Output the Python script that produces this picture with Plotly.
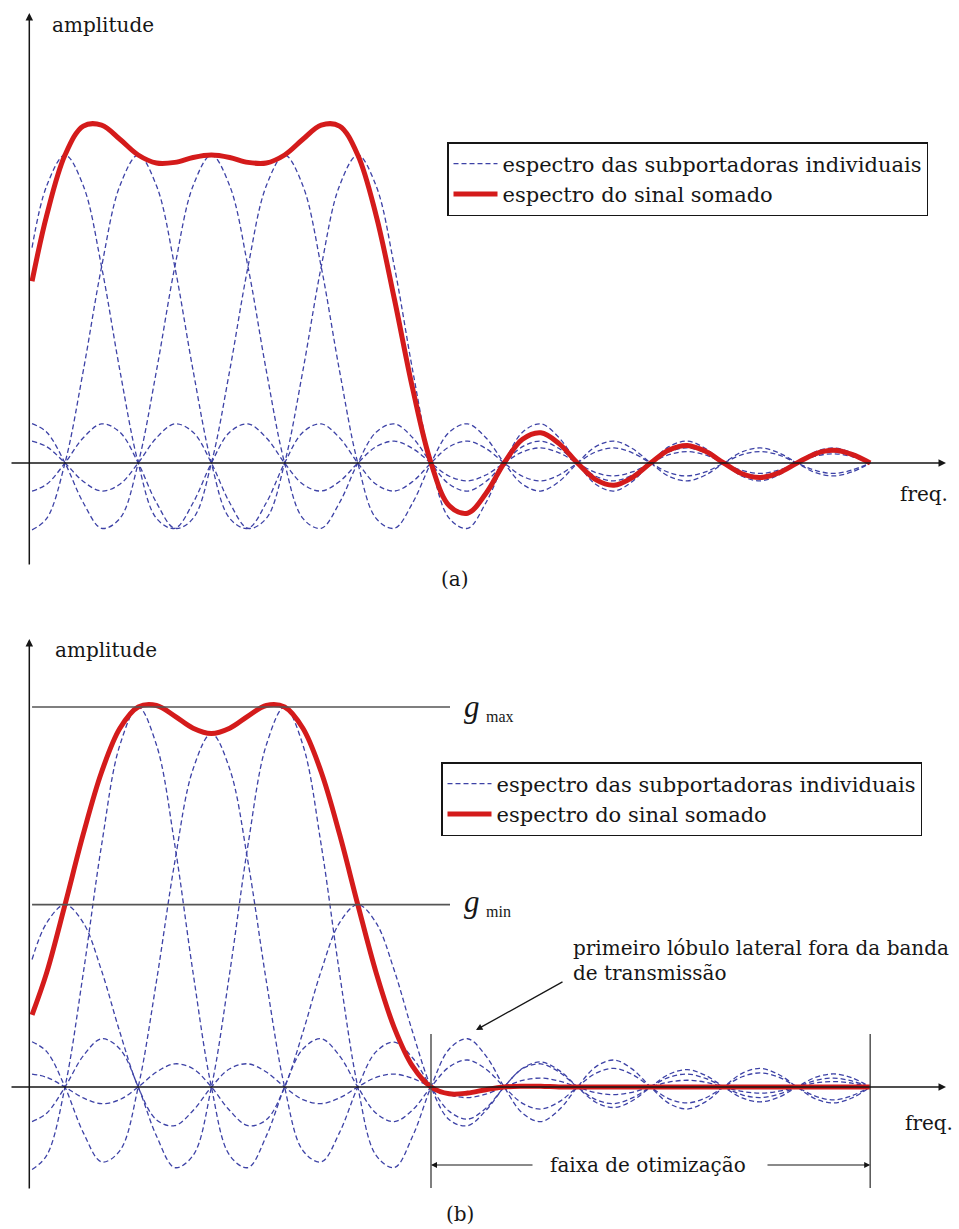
import plotly.graph_objects as go

# ---------------- data ----------------
# sub-carrier centre frequencies, in units of the carrier spacing
CARRIER_FREQ = [0, 1, 2, 3, 4]
# sub-carrier peak amplitudes: (a) plain sum, (b) weighted (optimised) sum
AMP_A = [1.0, 1.0, 1.0, 1.0, 1.0]
AMP_B = [0.48, 1.0, 0.93, 1.0, 0.48]

# single sub-carrier spectrum shape, read at offsets from its centre
PROFILE_OFFSET = [0, 0.25, 0.45, 0.5, 0.75, 1, 1.25, 1.45, 1.5, 1.75, 2, 2.25, 2.45, 2.5, 2.75,
                  3, 3.25, 3.45, 3.5, 3.75, 4, 4.25, 4.45, 4.5, 4.75, 5, 5.25, 5.5, 5.75,
                  6, 6.25, 6.5, 6.75, 7, 7.25, 7.5, 7.75, 8, 8.25, 8.5, 8.75,
                  9, 9.25, 9.5, 9.75, 10, 10.25, 10.5, 10.75, 11]
PROFILE_VALUE = [1.000, 0.900, 0.699, 0.637, 0.300, 0.0, -0.180, -0.217, -0.212, -0.129, 0.0, 0.100, 0.128, 0.127, 0.082,
                 0.0, -0.069, -0.091, -0.091, -0.060, 0.0, 0.053, 0.071, 0.071, 0.047, 0.0, -0.043, -0.058, -0.039,
                 0.0, 0.036, 0.049, 0.033, 0.0, -0.031, -0.042, -0.029, 0.0, 0.027, 0.037, 0.026,
                 0.0, -0.024, -0.034, -0.023, 0.0, 0.022, 0.030, 0.021, 0.0]

# summed spectrum (red), read on this frequency grid
RED_FREQ = [-0.45, -0.25, 0, 0.25, 0.5, 0.75, 1, 1.25, 1.5, 1.75, 2, 2.25, 2.5, 2.75,
            3, 3.25, 3.5, 3.75, 4, 4.25, 4.5, 4.75, 5, 5.25, 5.5, 5.75, 6, 6.25, 6.5, 6.75,
            7, 7.25, 7.5, 7.75, 8, 8.25, 8.5, 8.75, 9, 9.25, 9.5, 9.75, 10, 10.25, 10.5, 10.75, 11]
RED_A = [0.590, 0.804, 1.000, 1.094, 1.097, 1.051, 1.000, 0.974, 0.976, 0.992, 1.000, 0.992, 0.976, 0.974,
         1.000, 1.051, 1.097, 1.094, 1.000, 0.804, 0.532, 0.241, 0.0, -0.139, -0.163, -0.099, 0.0, 0.077, 0.098, 0.063,
         0.0, -0.054, -0.072, -0.047, 0.0, 0.042, 0.057, 0.038, 0.0, -0.035, -0.047, -0.032, 0.0, 0.030, 0.041, 0.028, 0.0]
RED_B = [0.190, 0.301, 0.480, 0.666, 0.829, 0.944, 1.000, 1.004, 0.976, 0.944, 0.930, 0.944, 0.976, 1.004,
         1.000, 0.944, 0.829, 0.666, 0.480, 0.301, 0.155, 0.054, 0.0, -0.018, -0.016, -0.007, 0.0, 0.002, 0.002, 0.0,
         0.0, 0.0, 0.0, 0.0, 0.0, 0.0, 0.0, 0.0, 0.0, 0.0, 0.0, 0.0, 0.0, 0.0, 0.0, 0.0, 0.0]

G_MAX = 1.0
G_MIN = 0.48
F_START = -0.45
F_END = 11
BAND_START = 5
BAND_END = 11

NAME_SUB = "espectro das subportadoras individuais"
NAME_SUM = "espectro do sinal somado"

# ---------------- styling / layout ----------------
W, H = 959, 1229
SPLIT_PX = 614
X_ZERO_PX, X_STEP_PX = 65.0, 73.2
A_ZERO_PX, A_UNIT_PX = 463.0, 308.0
B_ZERO_PX, B_UNIT_PX = 1087.0, 380.0

BLUE = "#3d42a6"
RED = "#d41b1b"
INK = "#161616"
GREY = "#555555"
SERIF = "DejaVu Serif"
TS = 20


def carrier_curve(center, amp):
    pts = {}
    for o, val in zip(PROFILE_OFFSET, PROFILE_VALUE):
        regular = abs(o * 4 - round(o * 4)) < 1e-6
        for sgn in (-1, 1):
            u = center + sgn * o
            if abs(u - F_START) < 1e-6 or (regular and F_START < u <= F_END + 1e-9):
                pts[round(u, 4)] = amp * val
    xs = sorted(pts)
    return xs, [pts[x] for x in xs]


fig = go.Figure()

for panel, amps, red, xa, ya, leg in (("a", AMP_A, RED_A, "x", "y", "legend"),
                                       ("b", AMP_B, RED_B, "x2", "y2", "legend2")):
    for i, (c, a) in enumerate(zip(CARRIER_FREQ, amps)):
        xs, ys = carrier_curve(c, a)
        fig.add_trace(go.Scatter(
            x=xs, y=ys, mode="lines", xaxis=xa, yaxis=ya, legend=leg,
            line=dict(color=BLUE, width=1.3, dash="5px,3px", shape="spline", smoothing=1.0),
            name=NAME_SUB, showlegend=(i == 0), hoverinfo="skip"))
    fig.add_trace(go.Scatter(
        x=RED_FREQ, y=red, mode="lines", xaxis=xa, yaxis=ya, legend=leg,
        line=dict(color=RED, width=5, shape="spline", smoothing=1.0),
        name=NAME_SUM, showlegend=True, hoverinfo="skip"))


def px_to_u(xp):
    return (xp - X_ZERO_PX) / X_STEP_PX


def px_to_va(yp):
    return (A_ZERO_PX - yp) / A_UNIT_PX


def px_to_vb(yp):
    return (B_ZERO_PX - yp) / B_UNIT_PX


def txt(text, xp, yp, size=TS, xanchor="center", family=SERIF, color=INK):
    return dict(text=text, x=xp / W, y=1 - yp / H, xref="paper", yref="paper",
                showarrow=False, xanchor=xanchor, yanchor="middle",
                font=dict(family=family, size=size, color=color))


def arrow(xr, yr, x0, y0, x1, y1, head=2, width=1.5, color=INK, size=1.0):
    return dict(x=x1, y=y1, ax=x0, ay=y0, xref=xr, yref=yr, axref=xr, ayref=yr,
                text="", showarrow=True, arrowhead=head, arrowsize=size,
                arrowwidth=width, arrowcolor=color, standoff=0, startstandoff=0)


ann = [
    # axes (a)
    arrow("x", "y", px_to_u(10), 0, px_to_u(946), 0),
    arrow("x", "y", px_to_u(29.3), px_to_va(566), px_to_u(29.3), px_to_va(13)),
    # axes (b)
    arrow("x2", "y2", px_to_u(10), 0, px_to_u(946), 0),
    arrow("x2", "y2", px_to_u(29.3), px_to_vb(1190), px_to_u(29.3), px_to_vb(639)),
    # pointer to first side lobe
    arrow("x2", "y2", px_to_u(564), px_to_vb(981), px_to_u(476), px_to_vb(1030), width=1.3),
    # optimisation band arrows
    arrow("x2", "y2", px_to_u(534), px_to_vb(1165), BAND_START, px_to_vb(1165), width=1.2),
    arrow("x2", "y2", px_to_u(766), px_to_vb(1165), BAND_END, px_to_vb(1165), width=1.2),
    # texts
    txt("amplitude", 50, 25, xanchor="left"),
    txt("amplitude", 53, 650, xanchor="left"),
    txt("freq.", 898, 494, xanchor="left"),
    txt("freq.", 903, 1123, xanchor="left"),
    txt("(a)", 455, 579),
    txt("(b)", 460, 1214),
    txt("<i>g</i>", 462, 707, size=31, xanchor="left", family="Liberation Serif"),
    txt("max", 484, 716, size=16, xanchor="left", family="Liberation Serif"),
    txt("<i>g</i>", 462, 901, size=31, xanchor="left", family="Liberation Serif"),
    txt("min", 484, 911, size=16, xanchor="left", family="Liberation Serif"),
    txt("primeiro lóbulo lateral fora da banda", 571, 948, xanchor="left"),
    txt("de transmissão", 571, 973, xanchor="left"),
    txt("faixa de otimização", 648, 1165),
]

shapes = [
    dict(type="line", xref="x2", yref="y2", x0=F_START, x1=px_to_u(450), y0=G_MAX, y1=G_MAX,
         line=dict(color=GREY, width=1.6)),
    dict(type="line", xref="x2", yref="y2", x0=F_START, x1=px_to_u(450), y0=G_MIN, y1=G_MIN,
         line=dict(color=GREY, width=1.6)),
    dict(type="line", xref="x2", yref="y2", x0=BAND_START, x1=BAND_START,
         y0=px_to_vb(1034), y1=px_to_vb(1188), line=dict(color=GREY, width=1.5)),
    dict(type="line", xref="x2", yref="y2", x0=BAND_END, x1=BAND_END,
         y0=px_to_vb(1034), y1=px_to_vb(1188), line=dict(color=GREY, width=1.5)),
]

split = 1 - SPLIT_PX / H
x_range = [px_to_u(0), px_to_u(W)]
hidden = dict(visible=False, showgrid=False, zeroline=False, fixedrange=True)

legend_style = dict(xanchor="left", yanchor="top", bgcolor="white", bordercolor=INK,
                    borderwidth=1.5, font=dict(family=SERIF, size=21, color=INK),
                    traceorder="normal", itemwidth=44)

fig.update_layout(
    width=W, height=H, margin=dict(l=0, r=0, t=0, b=0),
    paper_bgcolor="white", plot_bgcolor="white",
    xaxis=dict(domain=[0, 1], range=x_range, anchor="y", **hidden),
    yaxis=dict(domain=[split, 1], range=[px_to_va(SPLIT_PX), px_to_va(0)], anchor="x", **hidden),
    xaxis2=dict(domain=[0, 1], range=x_range, anchor="y2", **hidden),
    yaxis2=dict(domain=[0, split], range=[px_to_vb(H), px_to_vb(SPLIT_PX)], anchor="x2", **hidden),
    legend=dict(x=447 / W, y=1 - 142 / H, **legend_style),
    legend2=dict(x=441 / W, y=1 - 762 / H, **legend_style),
    annotations=ann,
    shapes=shapes,
    showlegend=True,
)

fig.write_html("out.html", config={"displayModeBar": False, "staticPlot": True},
               post_script="document.body.style.margin='0';document.body.style.padding='0';")
